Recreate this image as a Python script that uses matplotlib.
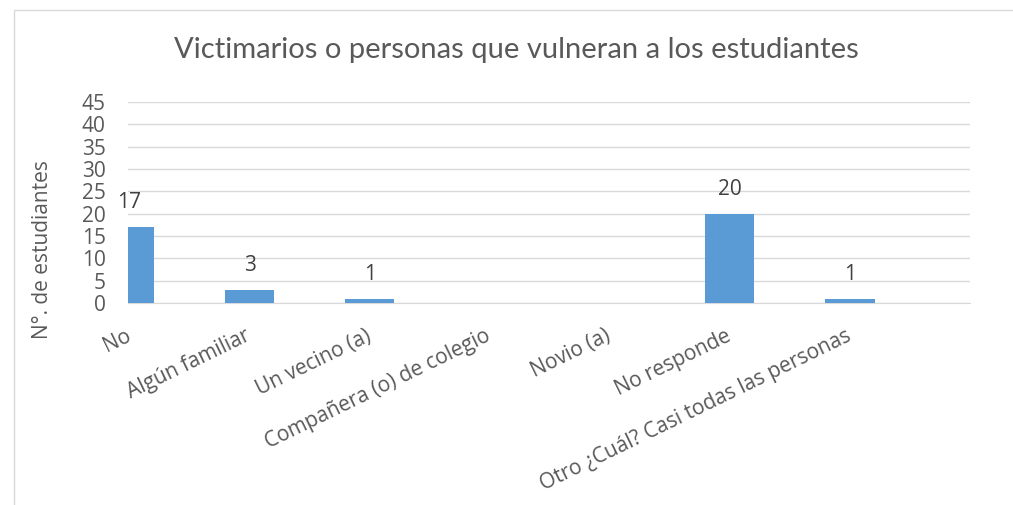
import matplotlib.pyplot as plt
from matplotlib.patches import Rectangle

categorias = ['No', 'Algún familiar', 'Un vecino (a)', 'Compañera (o) de colegio',
              'Novio (a)', 'No responde', 'Otro ¿Cuál? Casi todas las personas']
valores = [17, 3, 1, 0, 0, 20, 1]

plt.rcParams['font.family'] = ['Open Sans', 'DejaVu Sans']
gris = '#595959'

fig = plt.figure(figsize=(10.13, 5.05), dpi=100)
# marco del grafico
fig.patches.append(Rectangle((14/1013, -0.1), 1.1, 0.1 + (505-10)/505, transform=fig.transFigure,
                             fill=False, edgecolor='#d9d9d9', linewidth=1))
ax = fig.add_axes([128/1013, 0.40, (970-128)/1013, 0.398])

x = list(range(len(categorias)))
ax.bar(x, valores, width=0.41, color='#5b9bd5', zorder=3)
for xi, v in zip(x, valores):
    if v > 0:
        ax.text(xi, v + 5.4, str(v), ha='center', va='center', fontsize=15, color='#404040')

ax.set_xlim(-0.012, 7.0)
ax.set_ylim(0, 45)
ax.set_yticks(range(0, 46, 5))
ax.yaxis.grid(True, color='#d9d9d9', linewidth=1, zorder=0)
ax.tick_params(axis='y', length=0, labelsize=15, labelcolor=gris, pad=16)
ax.tick_params(axis='x', length=0)
ax.set_xticks(x)
ax.set_xticklabels(categorias, rotation=26, ha='right', va='center', rotation_mode='anchor',
                   fontsize=15, color=gris)
ax.tick_params(axis='x', pad=23)
for s in ['top', 'right', 'left']:
    ax.spines[s].set_visible(False)
ax.spines['bottom'].set_color('#d9d9d9')

fig.text(42/1013, (505-250)/505, 'N°. de estudiantes', rotation=90, ha='center', va='center',
         fontsize=15, color=gris)
fig.text(516/1013, (505-50)/505, 'Victimarios o personas que vulneran a los estudiantes',
         ha='center', va='center', fontsize=21, color=gris, family=['Lato', 'DejaVu Sans'])

plt.savefig('out.png', dpi=100)
